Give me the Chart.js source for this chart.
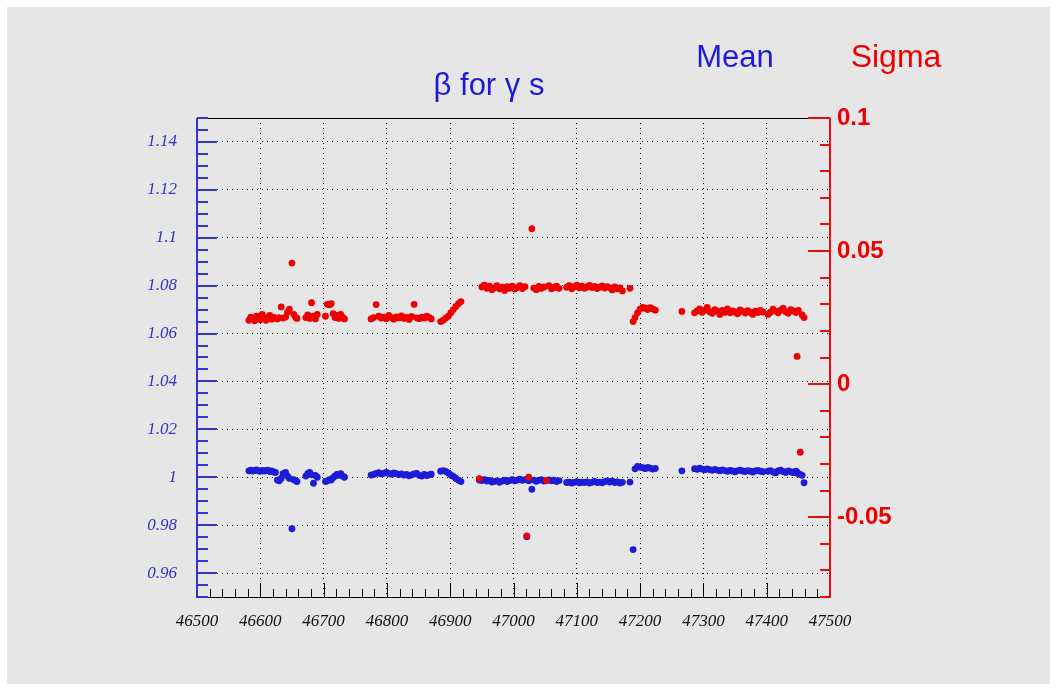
<!DOCTYPE html>
<html>
<head>
<meta charset="utf-8">
<script src="https://cdn.jsdelivr.net/npm/chart.js"></script>
<style>
  html, body { margin: 0; padding: 0; background: #ffffff; }
  #wrap { width: 1057px; height: 691px; }
</style>
</head>
<body>
<div id="wrap"><canvas id="myChart"></canvas></div>
<script>
// run number, mean beta and sigma per run
const runs = [
  46582,46585,46588,46591,46594,46597,46600,46603,46606,46609,46612,46615,46618,46621,46624,
  46627,46630,46633,46636,46640,46643,46646,46650,46653,46656,46658,
  46672,46675,46678,46681,46684,46687,46690,
  46703,46706,46709,46712,46715,46718,46721,46724,46727,46730,46733,
  46775,46779,46783,46787,46791,46795,46799,46803,46807,46811,46815,46819,46823,46827,46831,46835,46839,46843,46847,46851,46855,46859,46863,46867,46870,
  46885,46889,46893,46897,46901,46905,46909,46913,46917,
  46946,46950,46954,46958,46962,46966,46970,46974,46978,46982,46986,46990,46994,46998,47002,47006,47010,47014,47018,47021,47024,47029,47032,47036,47040,47044,47048,47052,47056,47060,47064,47068,47072,
  47084,47088,47092,47096,47100,47104,47108,47112,47116,47120,47124,47128,47132,47136,47140,47144,47148,47152,47156,47160,47164,47168,47172,47184,
  47189,47192,47196,47200,47204,47208,47212,47216,47220,47224,
  47266,
  47286,47290,47294,47298,47302,47306,47310,47314,47318,47322,47326,47330,47334,47338,47342,47346,47350,47354,47358,47362,47366,47370,47374,47378,47382,47386,47390,47394,
  47402,47406,47410,47414,47418,47422,47426,47430,47434,47438,47442,47446,47448,47450,47453,47456,47459
];

const meanValues = [
  1.0027,1.0030,1.0026,1.0028,1.0031,1.0027,1.0025,1.0029,1.0026,1.0028,1.0030,1.0024,1.0026,1.0022,1.0020,
  0.9988,0.9985,0.9995,1.0015,1.0020,1.0005,0.9995,0.9785,0.9990,0.9985,0.9982,
  1.0005,1.0015,1.0020,1.0010,0.9975,1.0008,1.0000,
  0.9982,0.9985,0.9990,0.9988,0.9998,1.0005,1.0012,1.0008,1.0015,1.0005,1.0000,
  1.0009,1.0012,1.0016,1.0019,1.0014,1.0017,1.0020,1.0016,1.0013,1.0018,1.0015,1.0011,1.0014,1.0009,1.0012,1.0006,1.0010,1.0014,1.0016,1.0008,1.0005,1.0012,1.0007,1.0010,1.0013,
  1.0025,1.0028,1.0024,1.0018,1.0010,1.0004,0.9995,0.9988,0.9982,
  0.9988,0.9986,0.9990,0.9984,0.9987,0.9980,0.9983,0.9985,0.9979,0.9984,0.9988,0.9982,0.9986,0.9990,0.9985,0.9988,0.9992,0.9987,0.9990,0.9752,0.9985,0.9950,0.9988,0.9983,0.9987,0.9990,0.9984,0.9986,0.9989,0.9985,0.9988,0.9982,0.9986,
  0.9978,0.9980,0.9976,0.9979,0.9982,0.9977,0.9980,0.9978,0.9981,0.9976,0.9979,0.9983,0.9978,0.9980,0.9977,0.9982,0.9985,0.9980,0.9984,0.9978,0.9981,0.9976,0.9979,0.9980,
  0.9698,1.0035,1.0045,1.0042,1.0040,1.0036,1.0041,1.0038,1.0034,1.0037,
  1.0027,
  1.0036,1.0033,1.0038,1.0034,1.0031,1.0035,1.0032,1.0029,1.0033,1.0030,1.0027,1.0031,1.0028,1.0025,1.0029,1.0026,1.0023,1.0027,1.0030,1.0026,1.0024,1.0028,1.0025,1.0022,1.0026,1.0029,1.0025,1.0023,
  1.0025,1.0028,1.0022,1.0018,1.0026,1.0030,1.0024,1.0020,1.0027,1.0023,1.0019,1.0025,1.0021,1.0015,1.0012,1.0008,0.9977
];

const sigmaValues = [
  0.0240,0.0252,0.0246,0.0238,0.0255,0.0246,0.0242,0.0262,0.0247,0.0240,0.0250,0.0258,0.0244,0.0251,0.0248,
  0.0245,0.0250,0.0290,0.0248,0.0252,0.0270,0.0282,0.0455,0.0262,0.0250,0.0247,
  0.0250,0.0260,0.0247,0.0306,0.0255,0.0245,0.0262,
  0.0255,0.0300,0.0298,0.0302,0.0265,0.0250,0.0258,0.0247,0.0262,0.0252,0.0245,
  0.0245,0.0250,0.0299,0.0255,0.0248,0.0252,0.0246,0.0258,0.0250,0.0244,0.0253,0.0249,0.0256,0.0247,0.0251,0.0243,0.0254,0.0300,0.0249,0.0246,0.0252,0.0248,0.0255,0.0250,0.0245,
  0.0235,0.0240,0.0248,0.0255,0.0268,0.0280,0.0292,0.0302,0.0310,
  -0.0355,0.0365,0.0372,0.0360,0.0368,0.0355,0.0362,0.0370,0.0358,0.0364,0.0352,0.0366,0.0360,0.0368,0.0357,0.0363,0.0370,0.0359,0.0366,-0.0570,-0.0350,0.0584,0.0361,0.0355,0.0367,0.0360,0.0365,-0.0362,0.0370,0.0358,0.0363,0.0368,0.0360,
  0.0364,0.0370,0.0358,0.0366,0.0372,0.0362,0.0368,0.0360,0.0365,0.0371,0.0363,0.0367,0.0359,0.0364,0.0369,0.0361,0.0366,0.0362,0.0354,0.0365,0.0358,0.0362,0.0350,0.0360,
  0.0235,0.0250,0.0268,0.0282,0.0288,0.0285,0.0280,0.0287,0.0283,0.0278,
  0.0273,
  0.0268,0.0275,0.0283,0.0270,0.0278,0.0288,0.0272,0.0266,0.0280,0.0274,0.0262,0.0277,0.0270,0.0283,0.0268,0.0275,0.0271,0.0264,0.0279,0.0273,0.0267,0.0276,0.0270,0.0262,0.0274,0.0269,0.0277,0.0271,
  0.0262,0.0270,0.0282,0.0274,0.0268,0.0278,0.0285,0.0272,0.0266,0.0280,0.0275,0.0269,0.0104,0.0277,-0.0256,0.0260,0.0250
];

const runTicks = [46500,46600,46700,46800,46900,47000,47100,47200,47300,47400,47500];
const meanTicks = [0.96,0.98,1.00,1.02,1.04,1.06,1.08,1.10,1.12,1.14];
const sigmaTicks = [-0.05,0,0.05,0.1];

const BLUE = '#1c1cd8';
const RED = '#ee0000';

// ROOT style frame, inward tick marks and the header texts
const rootFrame = {
  id: 'rootFrame',
  beforeDraw(chart) {
    const ctx = chart.ctx;
    ctx.save();
    ctx.fillStyle = '#ffffff';
    ctx.fillRect(0, 0, chart.width, chart.height);
    ctx.fillStyle = '#e6e6e6';
    ctx.fillRect(7, 7, chart.width - 14, chart.height - 14);
    ctx.restore();
  },
  afterDatasetsDraw(chart) {
    const {ctx, chartArea: a, scales} = chart;
    const line = (x1, y1, x2, y2) => { ctx.beginPath(); ctx.moveTo(x1, y1); ctx.lineTo(x2, y2); ctx.stroke(); };
    ctx.save();

    // x axis ticks (bottom, pointing up)
    ctx.strokeStyle = '#000';
    ctx.lineWidth = 1;
    for (let i = 0; i <= 50; i++) {
      const px = Math.round(scales.x.getPixelForValue(46500 + i * 20)) + 0.5;
      line(px, a.bottom, px, a.bottom - (i % 5 === 0 ? 14 : 8));
    }
    line(a.left, a.top + 0.5, a.right, a.top + 0.5);
    line(a.left, a.bottom + 0.5, a.right, a.bottom + 0.5);

    // left axis (mean)
    ctx.strokeStyle = '#3434d0';
    ctx.lineWidth = 2;
    for (let i = 0; i <= 40; i++) {
      const py = Math.round(scales.y.getPixelForValue(0.95 + i * 0.005));
      line(a.left, py, a.left + (i % 4 === 2 ? 20 : 11), py);
    }
    line(a.left, a.top, a.left, a.bottom + 1);

    // right axis (sigma)
    ctx.strokeStyle = '#e01010';
    for (let i = 0; i <= 18; i++) {
      const py = Math.round(scales.y2.getPixelForValue(-0.08 + i * 0.01));
      line(a.right, py, a.right - ((i - 3) % 5 === 0 ? 22 : 10), py);
    }
    line(a.right, a.top, a.right, a.bottom + 1);

    // texts
    ctx.textAlign = 'center';
    ctx.textBaseline = 'middle';
    ctx.font = '31px "Liberation Sans", Arial, sans-serif';
    ctx.fillStyle = BLUE;
    ctx.fillText('β for γ s', 489, 86);
    ctx.font = '31px "Liberation Sans", Arial, sans-serif';
    ctx.fillText('Mean', 735, 58);
    ctx.fillStyle = RED;
    ctx.font = '32px "Liberation Sans", Arial, sans-serif';
    ctx.fillText('Sigma', 896, 58);
    ctx.restore();
  }
};

const config = {
  type: 'scatter',
  data: {
    datasets: [
      {
        label: 'Sigma',
        data: runs.map((r, i) => ({x: r, y: sigmaValues[i]})),
        yAxisID: 'y2',
        backgroundColor: RED,
        borderWidth: 0,
        pointRadius: 3.4
      },
      {
        label: 'Mean',
        data: runs.map((r, i) => ({x: r, y: meanValues[i]})),
        yAxisID: 'y',
        backgroundColor: BLUE,
        borderWidth: 0,
        pointRadius: 3.4
      }
    ]
  },
  options: {
    responsive: true,
    maintainAspectRatio: false,
    animation: false,
    layout: { padding: { top: 118, left: 0, right: 0, bottom: 0 } },
    plugins: { legend: { display: false }, tooltip: { enabled: false } },
    scales: {
      x: {
        type: 'linear',
        min: 46500,
        max: 47500,
        afterBuildTicks: s => { s.ticks = runTicks.map(v => ({value: v})); },
        afterFit: s => { s.height = 94; },
        grid: { color: '#000', lineWidth: 1, drawTicks: false },
        border: { display: false, dash: [1, 4] },
        ticks: {
          padding: 14,
          maxRotation: 0,
          autoSkip: false,
          color: '#111',
          font: { family: '"Liberation Serif", "Times New Roman", serif', style: 'italic', size: 17 },
          callback: v => String(v)
        }
      },
      y: {
        position: 'left',
        min: 0.95,
        max: 1.15,
        afterBuildTicks: s => { s.ticks = meanTicks.map(v => ({value: v})); },
        afterFit: s => { s.width = 197; },
        grid: { color: '#000', lineWidth: 1, drawTicks: false },
        border: { display: false, dash: [1, 4] },
        ticks: {
          padding: 20,
          color: '#3434c8',
          font: { family: '"Liberation Serif", "Times New Roman", serif', style: 'italic', size: 17 },
          callback: v => String(+v.toFixed(2))
        }
      },
      y2: {
        position: 'right',
        min: -0.08,
        max: 0.1,
        afterBuildTicks: s => { s.ticks = sigmaTicks.map(v => ({value: v})); },
        afterFit: s => { s.width = 227; },
        grid: { display: false, drawTicks: false },
        border: { display: false },
        ticks: {
          padding: 7,
          color: RED,
          font: { family: '"Liberation Sans", Arial, sans-serif', weight: 'bold', size: 24 },
          callback: v => String(+v.toFixed(2))
        }
      }
    }
  },
  plugins: [rootFrame]
};

const myChart = new Chart(document.getElementById('myChart').getContext('2d'), config);
</script>
</body>
</html>
